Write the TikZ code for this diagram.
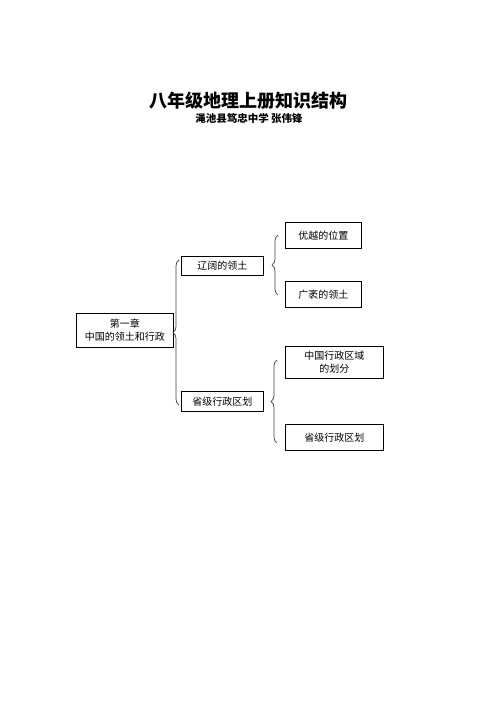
\documentclass[tikz,border=0pt]{standalone}
\usepackage{fontspec}
\newfontfamily\cjk{Noto Sans CJK SC}
\usetikzlibrary{decorations.pathreplacing}
\begin{document}
\begin{tikzpicture}[x=1pt,y=-1pt,
  box/.style={draw=black,line width=0.8pt,inner sep=0pt,anchor=north west,align=center,font=\cjk\fontsize{10}{13}\selectfont},
  brc/.style={decorate,decoration={brace,amplitude=6pt,raise=0pt},draw=black!75,line width=0.7pt}]
\useasboundingbox (0,0) rectangle (496,702);
\fill[white] (0,0) rectangle (496,702);
\node (title) at (248,101) {\cjk\bfseries\fontsize{18}{20}\selectfont 八年级地理上册知识结构};
\node (sub) at (249,118) {\cjk\bfseries\fontsize{10.5}{12}\selectfont 渑池县笃忠中学\ 张伟锋};
% boxes
\node[box,minimum width=97pt,minimum height=34pt] (root) at (76,313) {第一章\\中国的领土和行政};
\node[box,minimum width=82pt,minimum height=18.5pt] (a) at (181,256) {辽阔的领土};
\node[box,minimum width=82pt,minimum height=20pt] (b) at (181,391) {省级行政区划};
\node[box,minimum width=76pt,minimum height=26pt] (a1) at (285,222) {优越的位置};
\node[box,minimum width=76pt,minimum height=26pt] (a2) at (285,281) {广袤的领土};
\node[box,minimum width=98pt,minimum height=32pt] (b1) at (285,346) {中国行政区域\\的划分};
\node[box,minimum width=98pt,minimum height=26pt] (b2) at (285,424) {省级行政区划};
% braces
\coordinate (r1) at (179,405);
\coordinate (r2) at (179,260);
\coordinate (s1) at (278,295);
\coordinate (s2) at (278,235);
\coordinate (t1) at (277,443);
\coordinate (t2) at (277,360);
\draw[brc] (r1) -- (r2);
\draw[brc] (s1) -- (s2);
\draw[brc] (t1) -- (t2);
\end{tikzpicture}
\end{document}
